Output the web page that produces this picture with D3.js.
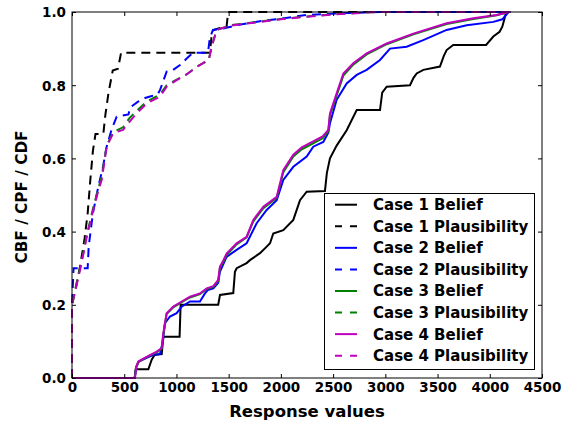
<!DOCTYPE html>
<html>
<head>
<meta charset="utf-8">
<script src="https://cdn.jsdelivr.net/npm/d3@7"></script>
<style>
  html, body { margin: 0; padding: 0; background: #fff; }
  svg text { font-family: "DejaVu Sans", sans-serif; font-weight: bold; fill: #000; }
</style>
</head>
<body>
<svg id="chart" width="561" height="423"></svg>
<script>
// ---------- data ----------
const xTicks = [0, 500, 1000, 1500, 2000, 2500, 3000, 3500, 4000, 4500];
const yTicks = [0.0, 0.2, 0.4, 0.6, 0.8, 1.0];
const xLabel = "Response values";
const yLabel = "CBF / CPF / CDF";

const case1Belief = [[0,0],[600,0],[610,0.024],[731,0.024],[763,0.05],[790,0.063],[859,0.065],[875,0.113],[1030,0.113],[1040,0.2],[1400,0.2],[1417,0.227],[1544,0.232],[1560,0.29],[1577,0.3],[1672,0.314],[1704,0.322],[1800,0.341],[1864,0.359],[1896,0.368],[1927,0.395],[2023,0.404],[2119,0.432],[2183,0.486],[2247,0.509],[2422,0.511],[2440,0.56],[2470,0.6],[2534,0.635],[2630,0.677],[2726,0.732],[2949,0.732],[2970,0.78],[3013,0.796],[3236,0.8],[3270,0.82],[3300,0.832],[3364,0.842],[3523,0.851],[3560,0.88],[3587,0.896],[3650,0.91],[3965,0.91],[4034,0.933],[4094,0.946],[4120,0.96],[4158,1.0]];
const case1Plaus = [[0,0],[0,0.2],[40,0.25],[80,0.31],[120,0.38],[150,0.45],[175,0.54],[200,0.62],[225,0.667],[300,0.667],[320,0.72],[350,0.78],[390,0.84],[440,0.845],[470,0.889],[1320,0.889],[1335,0.93],[1350,0.95],[1400,0.955],[1480,0.96],[1495,1.0],[4200,1.0]];
const case2Belief = [[0,0],[600,0],[615,0.03],[640,0.045],[715,0.055],[779,0.063],[843,0.066],[870,0.1],[890,0.15],[938,0.168],[1002,0.177],[1050,0.195],[1130,0.209],[1225,0.209],[1273,0.231],[1300,0.24],[1353,0.245],[1400,0.26],[1416,0.29],[1480,0.331],[1576,0.35],[1672,0.368],[1768,0.423],[1864,0.459],[1960,0.486],[2023,0.541],[2119,0.577],[2247,0.605],[2310,0.632],[2406,0.645],[2454,0.67],[2470,0.696],[2534,0.76],[2630,0.805],[2726,0.828],[2821,0.842],[2949,0.869],[3045,0.9],[3204,0.905],[3363,0.923],[3587,0.951],[3779,0.964],[4034,0.973],[4120,0.98],[4180,1.0]];
const case2Plaus = [[0,0],[0,0.2],[15,0.3],[150,0.3],[160,0.36],[200,0.45],[250,0.52],[297,0.577],[330,0.63],[380,0.68],[428,0.714],[540,0.72],[560,0.74],[632,0.755],[700,0.765],[747,0.769],[820,0.775],[843,0.787],[906,0.837],[960,0.84],[1034,0.855],[1098,0.873],[1160,0.889],[1302,0.889],[1320,0.93],[1350,0.951],[1450,0.955],[1580,0.964],[1800,0.975],[2000,0.982],[2250,0.992],[2600,0.997],[3000,1.0],[4200,1.0]];
const case3Belief = [[0,0],[600,0],[615,0.03],[635,0.044],[715,0.057],[811,0.07],[859,0.08],[874,0.118],[906,0.175],[970,0.193],[1050,0.207],[1130,0.22],[1225,0.229],[1290,0.243],[1353,0.249],[1400,0.265],[1416,0.3],[1450,0.318],[1480,0.336],[1576,0.365],[1672,0.384],[1736,0.428],[1832,0.464],[1960,0.492],[2023,0.562],[2119,0.605],[2200,0.625],[2300,0.64],[2400,0.655],[2454,0.674],[2470,0.718],[2534,0.772],[2598,0.826],[2693,0.856],[2821,0.884],[3013,0.912],[3268,0.939],[3587,0.967],[3842,0.981],[4066,0.991],[4180,1.0]];
const case3Plaus = [[0,0],[0,0.2],[40,0.255],[77,0.3],[110,0.345],[141,0.39],[203,0.465],[250,0.515],[284,0.55],[332,0.635],[394,0.672],[489,0.685],[550,0.71],[619,0.73],[715,0.755],[843,0.775],[906,0.8],[1002,0.815],[1100,0.83],[1194,0.85],[1290,0.866],[1310,0.87],[1337,0.905],[1385,0.951],[1450,0.957],[1545,0.965],[1800,0.974],[2000,0.981],[2247,0.988],[2500,0.994],[2900,1.0],[4200,1.0]];
const case4Belief = [[0,0],[603,0],[615,0.03],[635,0.045],[715,0.058],[811,0.072],[859,0.082],[874,0.122],[906,0.177],[970,0.195],[1050,0.209],[1130,0.222],[1225,0.231],[1290,0.245],[1353,0.251],[1400,0.268],[1416,0.304],[1450,0.322],[1480,0.34],[1576,0.368],[1672,0.386],[1736,0.432],[1832,0.468],[1960,0.495],[2023,0.568],[2119,0.61],[2200,0.63],[2300,0.645],[2400,0.66],[2454,0.678],[2470,0.723],[2534,0.778],[2598,0.832],[2693,0.86],[2821,0.887],[3013,0.914],[3268,0.941],[3587,0.969],[3842,0.983],[4066,0.992],[4180,1.0]];
const case4Plaus = [[0,0],[0,0.2],[40,0.25],[77,0.295],[110,0.34],[141,0.386],[203,0.459],[250,0.51],[284,0.541],[332,0.632],[394,0.669],[489,0.678],[550,0.7],[619,0.723],[715,0.75],[843,0.769],[906,0.796],[1002,0.814],[1100,0.83],[1194,0.85],[1290,0.866],[1310,0.87],[1337,0.905],[1385,0.951],[1450,0.957],[1545,0.964],[1800,0.973],[2000,0.98],[2247,0.987],[2500,0.993],[2900,1.0],[4200,1.0]];

const seriesNames = ["Case 1 Belief","Case 1 Plausibility","Case 2 Belief","Case 2 Plausibility","Case 3 Belief","Case 3 Plausibility","Case 4 Belief","Case 4 Plausibility"];
const seriesData = [case1Belief, case1Plaus, case2Belief, case2Plaus, case3Belief, case3Plaus, case4Belief, case4Plaus];
const seriesColors = ["#000000","#000000","#0000ff","#0000ff","#008000","#008000","#bf00bf","#bf00bf"];
const seriesDashed = [false, true, false, true, false, true, false, true];

(function () {
// ---------- layout ----------
const svg = d3.select("#chart");
const pL = 72, pR = 542, pT = 12, pB = 378;
const x = d3.scaleLinear().domain([0, 4500]).range([pL, pR]);
const y = d3.scaleLinear().domain([0, 1]).range([pB, pT]);
const DASH = "9,6";

svg.append("defs").append("clipPath").attr("id", "plotclip")
  .append("rect").attr("x", pL - 2).attr("y", pT - 2).attr("width", pR - pL + 4).attr("height", pB - pT + 4);

const line = d3.line().x(d => x(d[0])).y(d => y(d[1]));

const g = svg.append("g").attr("clip-path", "url(#plotclip)");
seriesData.forEach((data, i) => {
  g.append("path")
    .attr("d", line(data))
    .attr("fill", "none")
    .attr("stroke", seriesColors[i])
    .attr("stroke-width", 2)
    .attr("stroke-dasharray", seriesDashed[i] ? DASH : null);
});

// ---------- axes (ticks inside, all four sides) ----------
const tickLen = 4;
const fs = 13.5;
const axB = svg.append("g").attr("transform", `translate(0,${pB})`)
  .call(d3.axisBottom(x).tickValues(xTicks).tickSizeInner(-tickLen).tickSizeOuter(0).tickPadding(0).tickFormat(d3.format("d")));
const axT = svg.append("g").attr("transform", `translate(0,${pT})`)
  .call(d3.axisTop(x).tickValues(xTicks).tickSizeInner(-tickLen).tickSizeOuter(0).tickFormat(""));
const axL = svg.append("g").attr("transform", `translate(${pL},0)`)
  .call(d3.axisLeft(y).tickValues(yTicks).tickSizeInner(-tickLen).tickSizeOuter(0).tickPadding(0).tickFormat(d3.format(".1f")));
const axR = svg.append("g").attr("transform", `translate(${pR},0)`)
  .call(d3.axisRight(y).tickValues(yTicks).tickSizeInner(-tickLen).tickSizeOuter(0).tickFormat(""));
[axB, axT, axL, axR].forEach(a => {
  a.select(".domain").remove();
  a.selectAll(".tick line").attr("stroke", "#000").attr("stroke-width", 1);
});
axB.selectAll(".tick text").attr("y", 14).attr("dy", null)
  .style("font-family", "'DejaVu Sans', sans-serif").style("font-weight", "bold").style("font-size", fs + "px");
axL.selectAll(".tick text").attr("x", -6).attr("dy", "0.36em")
  .style("font-family", "'DejaVu Sans', sans-serif").style("font-weight", "bold").style("font-size", fs + "px");

svg.append("rect").attr("x", pL).attr("y", pT).attr("width", pR - pL).attr("height", pB - pT)
  .attr("fill", "none").attr("stroke", "#000").attr("stroke-width", 1);

// axis labels
svg.append("text").attr("x", (pL + pR) / 2).attr("y", 417).attr("text-anchor", "middle")
  .style("font-size", "16.5px").text(xLabel);
svg.append("text").attr("transform", `translate(27,197) rotate(-90)`).attr("text-anchor", "middle")
  .style("font-size", "15.3px").text(yLabel);

// ---------- legend ----------
const lg = svg.append("g");
lg.append("rect").attr("x", 324.5).attr("y", 193.5).attr("width", 210).attr("height", 176)
  .attr("fill", "#fff").attr("stroke", "#000").attr("stroke-width", 1);
const rowY0 = 204.7, rowStep = 21.57;
seriesNames.forEach((name, i) => {
  const cy = rowY0 + i * rowStep;
  lg.append("line").attr("x1", 335).attr("x2", 357).attr("y1", cy).attr("y2", cy)
    .attr("stroke", seriesColors[i]).attr("stroke-width", 2)
    .attr("stroke-dasharray", seriesDashed[i] ? "7,8" : null);
  lg.append("text").attr("x", 373).attr("y", cy).attr("dy", "0.36em")
    .style("font-size", "15px").text(name);
});
})();
</script>
</body>
</html>
